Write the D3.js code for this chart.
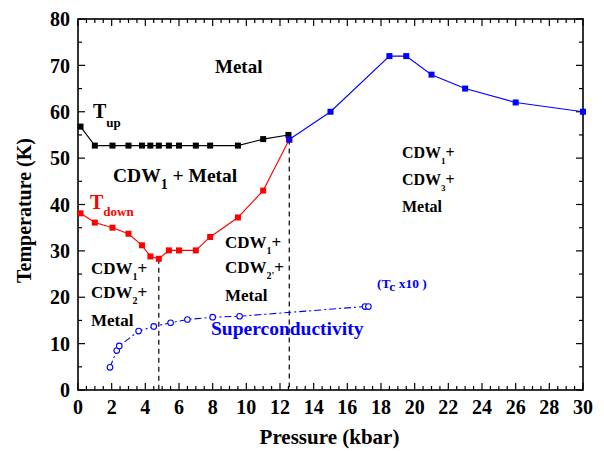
<!DOCTYPE html>
<html>
<head>
<meta charset="utf-8">
<script src="https://cdn.jsdelivr.net/npm/d3@7"></script>
<style>
  html, body { margin: 0; padding: 0; background: #fff; }
  svg { display: block; }
  text { font-family: "Liberation Serif", "Times New Roman", serif; font-weight: bold; }
</style>
</head>
<body>
<svg id="chart" width="604" height="451"></svg>
<script>
// Phase diagram: transition temperatures versus pressure
const tUp = [
  [0.15, 56.8], [1.0, 52.7], [2.05, 52.7], [3.0, 52.7], [3.8, 52.7], [4.3, 52.7],
  [4.8, 52.7], [5.4, 52.7], [6.0, 52.7], [7.0, 52.7], [7.85, 52.7], [9.5, 52.7],
  [11.0, 54.1], [12.5, 55.0]
];
const tDown = [
  [0.15, 38.1], [1.0, 36.1], [2.05, 35.0], [3.0, 33.7], [3.8, 31.2], [4.3, 28.8],
  [4.8, 28.3], [5.4, 30.1], [6.0, 30.1], [7.0, 30.1], [7.85, 33.0], [9.5, 37.2],
  [11.0, 43.0], [12.55, 54.0]
];
const tCdw3 = [
  [12.55, 54.0], [15.0, 60.0], [18.5, 72.0], [19.5, 72.0], [21.0, 68.0],
  [23.0, 65.0], [26.0, 62.0], [30.0, 60.0]
];
const tcX10 = [
  [1.9, 4.9], [2.3, 8.5], [2.45, 9.5], [3.6, 12.7], [4.5, 13.7], [5.5, 14.5],
  [6.5, 15.2], [8.0, 15.7], [9.6, 15.9], [17.05, 18.0], [17.25, 18.0]
];
// Phase boundaries drawn as dashed verticals: [pressure, upper temperature]
const boundaries = [[4.8, 28.3], [12.55, 54.0]];
const xTicks = d3.range(0, 31, 2);
const yTicks = d3.range(0, 81, 10);

const svg = d3.select("#chart");
const pL = 78, pR = 583, pT = 19, pB = 390;
const x = d3.scaleLinear().domain([0, 30]).range([pL, pR]);
const y = d3.scaleLinear().domain([0, 80]).range([pB, pT]);

// Ticks on all four sides, pointing inward
const minorX = d3.range(0, 30.01, 0.5);
const minorY = d3.range(0, 80.01, 5);
const g = svg.append("g").attr("stroke", "#000").attr("stroke-width", 1.2);
minorX.forEach(v => {
  const major = Math.abs(v % 2) < 1e-6;
  const len = major ? 7 : 4;
  g.append("line").attr("x1", x(v)).attr("x2", x(v)).attr("y1", pB).attr("y2", pB - len);
  g.append("line").attr("x1", x(v)).attr("x2", x(v)).attr("y1", pT).attr("y2", pT + len);
});
minorY.forEach(v => {
  const major = Math.abs(v % 10) < 1e-6;
  const len = major ? 7 : 4;
  g.append("line").attr("y1", y(v)).attr("y2", y(v)).attr("x1", pL).attr("x2", pL + len);
  g.append("line").attr("y1", y(v)).attr("y2", y(v)).attr("x1", pR).attr("x2", pR - len);
});
svg.append("rect").attr("x", pL).attr("y", pT).attr("width", pR - pL).attr("height", pB - pT)
  .attr("fill", "none").attr("stroke", "#000").attr("stroke-width", 1.6);

// Tick labels
svg.append("g").selectAll("text").data(xTicks).join("text")
  .attr("x", d => x(d)).attr("y", pB + 24).attr("text-anchor", "middle")
  .attr("font-size", 20).text(d => d);
svg.append("g").selectAll("text").data(yTicks).join("text")
  .attr("x", pL - 8).attr("y", d => y(d)).attr("dy", "0.36em").attr("text-anchor", "end")
  .attr("font-size", 20).text(d => d);

// Axis titles
svg.append("text").attr("x", (pL + pR) / 2 - 1).attr("y", 444).attr("text-anchor", "middle")
  .attr("font-size", 21).text("Pressure (kbar)");
svg.append("text").attr("transform", `translate(31,${(pT + pB) / 2 + 6}) rotate(-90)`)
  .attr("text-anchor", "middle").attr("font-size", 20).text("Temperature (K)");

// Dashed phase boundaries
svg.append("g").selectAll("line").data(boundaries).join("line")
  .attr("x1", d => x(d[0])).attr("x2", d => x(d[0]))
  .attr("y1", d => y(d[1])).attr("y2", y(0))
  .attr("stroke", "#000").attr("stroke-width", 1.2).attr("stroke-dasharray", "5,4");

const line = d3.line().x(d => x(d[0])).y(d => y(d[1]));

function squareSeries(data, color) {
  svg.append("path").datum(data).attr("d", line).attr("fill", "none")
    .attr("stroke", color).attr("stroke-width", 1.1);
  svg.append("g").selectAll("rect").data(data).join("rect")
    .attr("x", d => x(d[0]) - 3).attr("y", d => y(d[1]) - 3)
    .attr("width", 6).attr("height", 6).attr("fill", color);
}
squareSeries(tUp, "#000");
squareSeries(tDown, "#ff0000");
squareSeries(tCdw3, "#0000ff");

// Superconducting Tc (scaled by 10)
svg.append("path").datum(tcX10).attr("d", line).attr("fill", "none")
  .attr("stroke", "#0000ff").attr("stroke-width", 1.1).attr("stroke-dasharray", "7,3,2,3");
svg.append("g").selectAll("circle").data(tcX10).join("circle")
  .attr("cx", d => x(d[0])).attr("cy", d => y(d[1])).attr("r", 2.8)
  .attr("fill", "#fff").attr("stroke", "#0000ff").attr("stroke-width", 1.1);

// Text with subscripts: parts = [[text, isSub], ...]
function label(px, py, parts, size, subSize, subShift, color) {
  const t = svg.append("text").attr("x", px).attr("y", py).attr("font-size", size)
    .attr("fill", color || "#000");
  let shifted = false;
  parts.forEach(([s, sub]) => {
    const ts = t.append("tspan").text(s);
    if (sub && !shifted) { ts.attr("font-size", subSize).attr("dy", subShift); shifted = true; }
    else if (!sub && shifted) { ts.attr("dy", -subShift); shifted = false; }
    else if (sub) ts.attr("font-size", subSize);
  });
  return t;
}

label(215, 73, [["Metal", false]], 19);
label(93, 118, [["T", false], ["up", true]], 20, 13, 9);
label(90, 209, [["T", false], ["down", true]], 20, 13, 7, "#ff0000");
label(113, 182, [["CDW", false], ["1", true], [" + Metal", false]], 19.5, 14, 7);

label(91, 274, [["CDW", false], ["1", true], ["+", false]], 17, 10, 6);
label(91, 298, [["CDW", false], ["2", true], ["+", false]], 17, 10, 6);
label(91, 326, [["Metal", false]], 17);

label(225, 248, [["CDW", false], ["1", true], ["+", false]], 17, 10, 6);
label(225, 273, [["CDW", false], ["2'", true], ["+", false]], 17, 10, 6);
label(225, 301, [["Metal", false]], 17);

label(402, 158, [["CDW", false], ["1", true], ["+", false]], 16, 9, 6);
label(402, 185, [["CDW", false], ["3", true], ["+", false]], 16, 9, 6);
label(402, 212, [["Metal", false]], 16);

label(211, 335, [["Superconductivity", false]], 19.5, 0, 0, "#0000ff");
label(377, 288, [["(T", false], ["c", true], [" x10 )", false]], 13.5, 13.5, 3, "#0000ff");
</script>
</body>
</html>
